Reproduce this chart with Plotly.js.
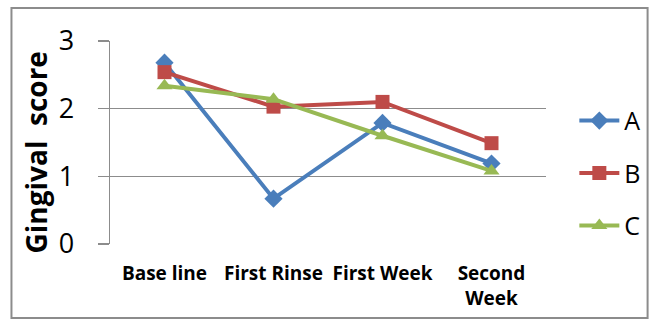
<!DOCTYPE html>
<html>
<head>
<meta charset="utf-8">
<script src="https://cdn.plot.ly/plotly-3.0.1.min.js"></script>
<style>html,body{margin:0;padding:0;background:#fff;}#chart{width:658px;height:322px;}</style>
</head>
<body>
<div id="chart"></div>
<script>
var categories = ["Base line", "First Rinse", "First Week", "Second<br>Week"];
var seriesA = [2.68, 0.67, 1.79, 1.19];
var seriesB = [2.54, 2.03, 2.10, 1.49];
var seriesC = [2.34, 2.14, 1.60, 1.08];
var yTicks = [0, 1, 2, 3];
var yTitle = 'Gingival  score';

function trace(name, y, color, symbol, size, grp) {
  return {
    type: 'scatter', mode: 'lines+markers', name: name, x: categories, y: y,
    legendgroup: grp,
    line: {color: color, width: 4},
    marker: {symbol: symbol, size: size, color: color}
  };
}
var data = [
  trace('A', seriesA, '#4A7EBB', 'diamond', 14, 'a'),
  trace('B', seriesB, '#BE4B48', 'square', 14, 'b'),
  trace('C', seriesC, '#98B954', 'triangle-up', 14, 'c')
];
var layout = {
  width: 658, height: 322,
  margin: {l: 110, r: 106, t: 41, b: 78},
  paper_bgcolor: '#fff', plot_bgcolor: '#fff',
  showlegend: true,
  legend: {x: 1.065, y: 0.72, xanchor: 'left', yanchor: 'top', traceorder: 'grouped', tracegroupgap: 17,
    font: {family: 'Open Sans, sans-serif', size: 25, color: '#000'}, itemwidth: 40},
  xaxis: {
    type: 'category', range: [-0.5, 3.5], showgrid: false, zeroline: false, showline: false,
    ticks: '', ticklabelstandoff: 16,
    tickfont: {family: 'Open Sans, sans-serif', size: 19, color: '#000', weight: 'bold'}
  },
  yaxis: {
    range: [0, 3], tickvals: yTicks, ticktext: yTicks.map(String),
    showgrid: true, gridcolor: '#8C8C8C', gridwidth: 1.5, zeroline: false,
    showline: true, linecolor: '#8C8C8C', linewidth: 1.5,
    ticks: 'outside', ticklen: 11, tickcolor: '#8C8C8C', tickwidth: 1.5,
    ticklabelstandoff: 18,
    tickfont: {family: 'Open Sans, sans-serif', size: 27, color: '#000'}
  },
  annotations: [{text: yTitle, xref: 'paper', yref: 'paper', x: -0.170, y: 0.45,
    xanchor: 'center', yanchor: 'middle', textangle: -90, showarrow: false,
    font: {family: 'Open Sans, sans-serif', size: 28, color: '#000', weight: 'bold'}}],
  shapes: [{type: 'rect', xref: 'paper', yref: 'paper', x0: -0.226, x1: 1.233, y0: -0.365, y1: 1.163,
    line: {color: '#8C8C8C', width: 2}, layer: 'below'}]
};
Plotly.newPlot('chart', data, layout, {displayModeBar: false, staticPlot: true});
</script>
</body>
</html>
